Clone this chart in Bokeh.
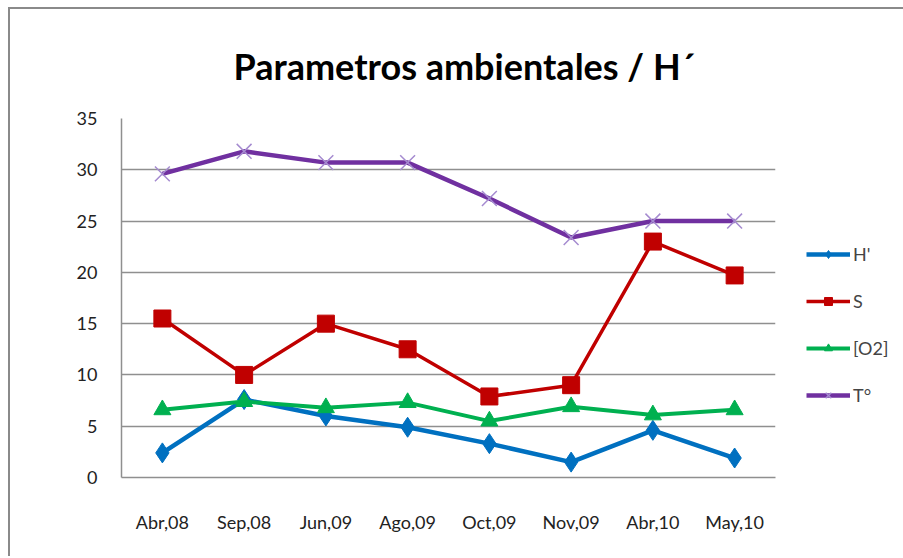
from bokeh.plotting import figure
from bokeh.models import Range1d, Legend, LegendItem, FactorRange, Title
from bokeh.embed import file_html
from bokeh.resources import INLINE

categories = ["Abr,08", "Sep,08", "Jun,09", "Ago,09", "Oct,09", "Nov,09", "Abr,10", "May,10"]
h_prime = [2.4, 7.6, 6.0, 4.9, 3.3, 1.5, 4.6, 1.9]
salinity = [15.5, 10.0, 15.0, 12.5, 7.9, 9.0, 23.0, 19.7]
oxygen = [6.6, 7.4, 6.8, 7.3, 5.5, 6.9, 6.1, 6.6]
temperature = [29.6, 31.8, 30.7, 30.7, 27.2, 23.4, 25.0, 25.0]
y_ticks = [0, 5, 10, 15, 20, 25, 30, 35]
series_names = ["H'", "S", "[O2]", "T°"]

FONT = "Lato"

p = figure(frame_width=654, frame_height=359, output_backend="svg", toolbar_location=None,
           x_range=FactorRange(*categories), y_range=Range1d(0, 35),
           min_border_left=111, min_border_top=109, min_border_right=128, min_border_bottom=81)
p.styles = {"margin-left": "10px", "margin-top": "9px",
            "box-shadow": "-2px -2px 0 #8a8a8a"}
p.outline_line_color = None

p.title = Title(text="Parametros ambientales / H´", align="left", offset=112,
                text_font=FONT, text_font_size="36px", text_font_style="bold",
                text_color="black", standoff=62)

p.xgrid.grid_line_color = None
p.ygrid.grid_line_color = "#8f8f8f"
p.ygrid.grid_line_width = 1.5
p.yaxis.ticker = y_ticks
for ax in (p.xaxis, p.yaxis):
    ax.axis_line_color = "#8f8f8f"
    ax.axis_line_width = 1.5
    ax.major_tick_line_color = None
    ax.minor_tick_line_color = None
    ax.major_label_text_font = FONT
    ax.major_label_text_font_size = "18px"
    ax.major_label_text_color = "#222222"
p.yaxis.major_label_standoff = 18
p.xaxis.major_label_standoff = 27

c_h, c_s, c_o, c_t = "#0070C0", "#C00000", "#00B050", "#7030A0"

r1l = p.line(categories, h_prime, line_color=c_h, line_width=4.5)
r1m = p.scatter(categories, h_prime, marker="diamond", size=20, fill_color=c_h, line_color=c_h)
r2l = p.line(categories, salinity, line_color=c_s, line_width=3.5)
r2m = p.scatter(categories, salinity, marker="square", size=17, fill_color=c_s, line_color=c_s)
r3l = p.line(categories, oxygen, line_color=c_o, line_width=4)
r3m = p.scatter(categories, oxygen, marker="triangle", size=17, fill_color=c_o, line_color=c_o)
r4l = p.line(categories, temperature, line_color=c_t, line_width=4.5)
r4m = p.scatter(categories, temperature, marker="x", size=21, line_color="#A58BD0", line_width=1.5)

legend = Legend(items=[
    LegendItem(label=series_names[0], renderers=[r1l, r1m]),
    LegendItem(label=series_names[1], renderers=[r2l, r2m]),
    LegendItem(label=series_names[2], renderers=[r3l, r3m]),
    LegendItem(label=series_names[3], renderers=[r4l, r4m]),
], location=(31, 71), border_line_color=None, background_fill_alpha=0,
    glyph_width=44, glyph_height=20, spacing=25, padding=0, margin=0,
    label_text_font=FONT, label_text_font_size="18px", label_standoff=3)
p.add_layout(legend, "right")

open("out.html", "w").write(file_html(p, INLINE))
